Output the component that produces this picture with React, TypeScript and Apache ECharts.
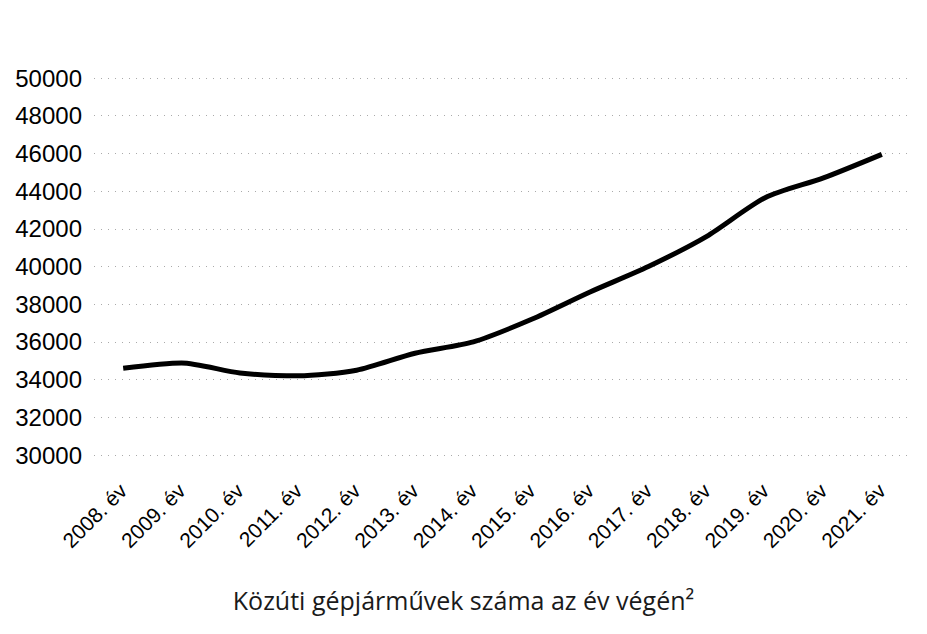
import React, { useEffect, useRef } from "react";
import * as echarts from "echarts";

const categories = [
  "2008. év", "2009. év", "2010. év", "2011. év", "2012. év", "2013. év", "2014. év",
  "2015. év", "2016. év", "2017. év", "2018. év", "2019. év", "2020. év", "2021. év",
];
const vehicles = [34600, 34880, 34350, 34200, 34500, 35400, 36000, 37200, 38650, 40000, 41600, 43650, 44700, 45950];
const yMin = 30000;
const yMax = 50000;
const yStep = 2000;
const chartTitle = "Közúti gépjárművek száma az év végén²";

export default function App() {
  const ref = useRef<HTMLDivElement>(null);
  useEffect(() => {
    if (!ref.current) return;
    const chart = echarts.init(ref.current, null, { renderer: "svg" });
    chart.setOption({
      animation: false,
      backgroundColor: "#ffffff",
      title: {
        text: chartTitle,
        left: "center",
        top: 582,
        textStyle: { fontFamily: "Open Sans", fontSize: 25, fontWeight: "normal", color: "#1a1a1a" },
      },
      grid: { left: 94, right: 16, top: 78, bottom: 179, containLabel: false },
      xAxis: {
        type: "category",
        data: categories,
        boundaryGap: true,
        axisLine: { show: false },
        axisTick: { show: false },
        splitLine: { show: false },
        axisLabel: {
          rotate: 45,
          margin: 32,
          interval: 0,
          fontFamily: "Liberation Sans",
          fontSize: 21,
          color: "#000",
        },
      },
      yAxis: {
        type: "value",
        min: yMin,
        max: yMax,
        interval: yStep,
        axisLine: { show: false },
        axisTick: { show: false },
        axisLabel: {
          margin: 12,
          fontFamily: "Liberation Sans",
          fontSize: 24,
          color: "#000",
          formatter: (v: number) => String(v),
        },
        splitLine: { show: true, lineStyle: { color: "#aaa", width: 1, type: [1, 6] } },
      },
      series: [
        {
          type: "line",
          data: vehicles,
          smooth: 0.25,
          symbol: "none",
          lineStyle: { color: "#000", width: 5 },
        },
      ],
    });
    return () => chart.dispose();
  }, []);
  return (
    <div
      ref={ref}
      style={{ position: "absolute", left: 0, top: 0, width: 927, height: 634, background: "#fff" }}
    />
  );
}
